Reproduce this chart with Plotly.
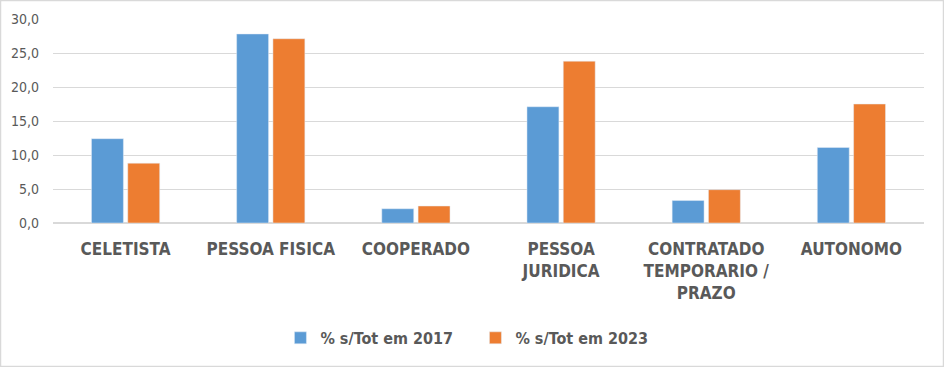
import plotly.graph_objects as go

categories = ["CELETISTA", "PESSOA FISICA", "COOPERADO", "PESSOA<br>JURIDICA",
              "CONTRATADO<br>TEMPORARIO /<br>PRAZO", "AUTONOMO"]
series_2017 = [12.4, 27.8, 2.1, 17.1, 3.3, 11.1]
series_2023 = [8.8, 27.1, 2.5, 23.8, 4.9, 17.5]
series_names = ["% s/Tot em 2017", "% s/Tot em 2023"]
y_ticks = [0, 5, 10, 15, 20, 25, 30]

W, H = 944, 367
ml, mr, mt, mb = 53, 20, 19, 144
pw, ph = W - ml - mr, H - mt - mb

FONT = "DejaVu Sans Condensed, DejaVu Sans, sans-serif"
TXT = "#595959"

fig = go.Figure()
fig.add_trace(go.Bar(x=categories, y=series_2017, name=series_names[0], marker_color="#5B9BD5"))
fig.add_trace(go.Bar(x=categories, y=series_2023, name=series_names[1], marker_color="#ED7D31"))

fig.update_layout(
    width=W, height=H,
    margin=dict(l=ml, r=mr, t=mt, b=mb),
    paper_bgcolor="white", plot_bgcolor="white",
    barmode="group", bargap=0.5, bargroupgap=0.12,
    separators=",.",
    font=dict(family=FONT, color=TXT, size=14),
    showlegend=True,
    legend=dict(orientation="h", x=0.485, xanchor="center", y=-0.48, yanchor="top",
                font=dict(size=16, color=TXT, weight="bold"), itemwidth=30,
                entrywidth=150),
    xaxis=dict(tickfont=dict(size=17, color=TXT, weight="bold"), showline=False,
               ticks="", showgrid=False, ticklabelstandoff=14),
    yaxis=dict(range=[0, 30], tickvals=y_ticks, tickformat=".1f", showgrid=True,
               gridcolor="#D9D9D9", gridwidth=1, zeroline=True, zerolinecolor="#D9D9D9",
               tickfont=dict(size=14, color=TXT), ticks="", showline=False,
               ticklabelstandoff=13),
    shapes=[dict(type="rect", xref="paper", yref="paper",
                 x0=-(ml - 0.5) / pw, x1=(W - ml - 0.5) / pw,
                 y0=-(mb - 0.5) / ph, y1=1 + (mt - 0.5) / ph,
                 line=dict(color="#D9D9D9", width=1.5), layer="below")],
)
fig.write_html("out.html", config={"displayModeBar": False},
               post_script="document.body.style.margin='0';document.body.style.overflow='hidden';")
